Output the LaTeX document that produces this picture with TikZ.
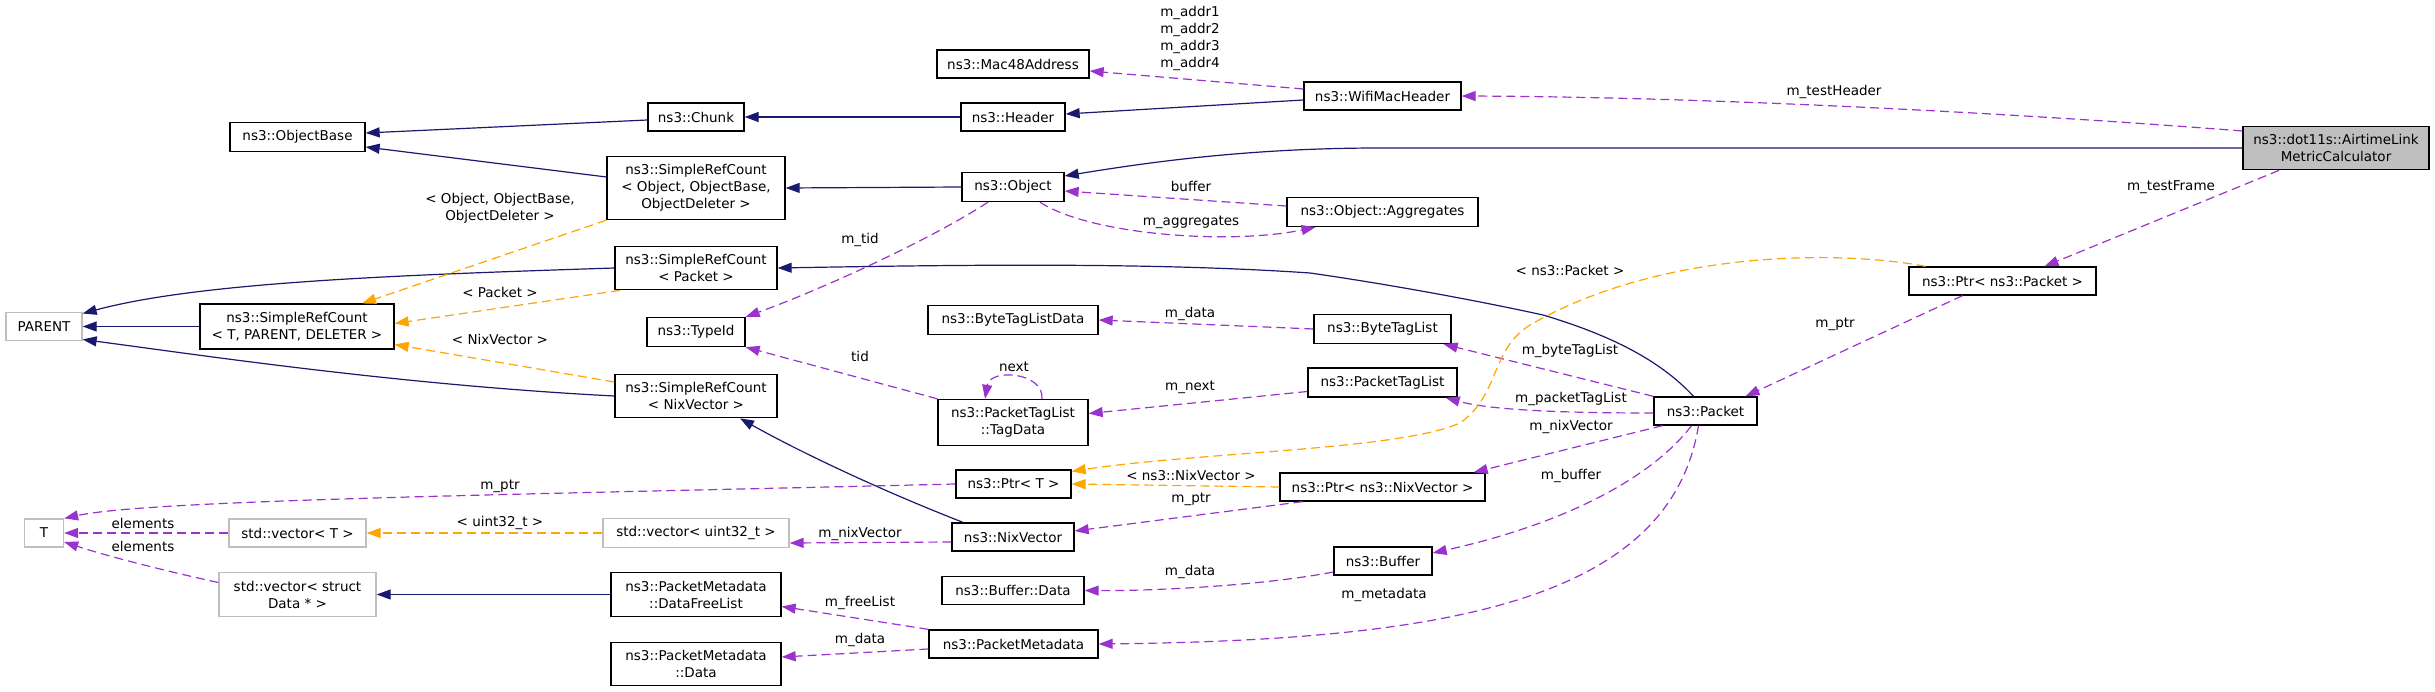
\documentclass[tikz,border=0pt]{standalone}
\usepackage{fontspec}
\setmainfont{DejaVu Sans}
\usetikzlibrary{arrows.meta}

\definecolor{inhblue}{HTML}{191970}
\definecolor{usepurple}{HTML}{9A32CD}
\definecolor{tplorange}{HTML}{FFA500}
\definecolor{extgray}{HTML}{BFBFBF}

\begin{document}
\begin{tikzpicture}[x=1pt, y=-1pt,
	font=\fontsize{13.5pt}{17pt}\selectfont,
	cls/.style={draw=black, line width=1.3pt, align=center, inner xsep=4pt, inner ysep=8pt, minimum height=28pt},
	ext/.style={cls, draw=extgray},
	lbl/.style={inner sep=0pt, align=center},
	edge/.style={line width=1.2pt, -{Triangle[length=14pt,width=10pt]}},
	inh/.style={edge, draw=inhblue},
	use/.style={edge, draw=usepurple, dash pattern=on 9pt off 5pt},
	tpl/.style={edge, draw=tplorange, dash pattern=on 9pt off 5pt}]
	\useasboundingbox (0,0) rectangle (2435,692);

	% classes
	\node[cls, minimum width=152pt] (Mac48) at (1013,64) {ns3::Mac48Address};
	\node[cls, minimum width=157pt] (WifiHdr) at (1382.5,96) {ns3::WifiMacHeader};
	\node[cls, minimum width=96pt] (Chunk) at (696,117) {ns3::Chunk};
	\node[cls, minimum width=104pt] (Header) at (1013,117) {ns3::Header};
	\node[cls, minimum width=135pt] (ObjBase) at (297.5,137) {ns3::ObjectBase};
	\node[cls, minimum width=178pt] (SrcObj) at (696,188) {ns3::SimpleRefCount\\< Object, ObjectBase,\\ObjectDeleter >};
	\node[cls, minimum width=102pt] (Obj) at (1013,187) {ns3::Object};
	\node[cls, minimum width=191pt] (Aggr) at (1382.5,212) {ns3::Object::Aggregates};
	\node[cls, minimum width=186pt, fill=extgray] (Airtime) at (2336,148) {ns3::dot11s::AirtimeLink\\MetricCalculator};
	\node[ext, minimum width=76pt] (Parent) at (44,326.5) {PARENT};
	\node[cls, minimum width=194pt] (SrcT) at (297,326.5) {ns3::SimpleRefCount\\< T, PARENT, DELETER >};
	\node[cls, minimum width=162pt] (SrcPkt) at (696,268) {ns3::SimpleRefCount\\< Packet >};
	\node[cls, minimum width=98pt] (TypeId) at (696,332) {ns3::TypeId};
	\node[cls, minimum width=170pt] (BtlData) at (1013,320) {ns3::ByteTagListData};
	\node[cls, minimum width=137pt] (Btl) at (1382.5,329) {ns3::ByteTagList};
	\node[cls, minimum width=187pt] (PtrPkt) at (2002.5,281) {ns3::Ptr< ns3::Packet >};
	\node[cls, minimum width=162pt] (SrcNix) at (696,396) {ns3::SimpleRefCount\\< NixVector >};
	\node[cls, minimum width=150pt] (TagData) at (1013,422.5) {ns3::PacketTagList\\::TagData};
	\node[cls, minimum width=149pt] (Ptl) at (1382.5,382.5) {ns3::PacketTagList};
	\node[cls, minimum width=103pt] (Packet) at (1705.5,411) {ns3::Packet};
	\node[cls, minimum width=115pt] (PtrT) at (1013.5,484) {ns3::Ptr< T >};
	\node[cls, minimum width=205pt] (PtrNix) at (1382.5,487) {ns3::Ptr< ns3::NixVector >};
	\node[ext, minimum width=39pt] (T) at (44,533) {T};
	\node[ext, minimum width=137pt] (VecT) at (297.5,533) {std::vector< T >};
	\node[ext, minimum width=186pt] (VecU32) at (696,533) {std::vector< uint32\_t >};
	\node[cls, minimum width=122pt] (Nix) at (1013,537) {ns3::NixVector};
	\node[cls, minimum width=98pt] (Buffer) at (1383,561) {ns3::Buffer};
	\node[ext, minimum width=157pt] (VecData) at (297.5,594.5) {std::vector< struct\\Data * >};
	\node[cls, minimum width=170pt] (FreeList) at (696,594.5) {ns3::PacketMetadata\\::DataFreeList};
	\node[cls, minimum width=142pt] (BufData) at (1013,590.5) {ns3::Buffer::Data};
	\node[cls, minimum width=170pt] (PmData) at (696,664) {ns3::PacketMetadata\\::Data};
	\node[cls, minimum width=169pt] (Pm) at (1013.5,644) {ns3::PacketMetadata};

	\coordinate (bendObj) at (1380,148);
	\coordinate (bendPktA) at (1543,315);
	\coordinate (bendPktB) at (1310,273);
	\coordinate (bendTplA) at (1530,325);
	\coordinate (bendTplB) at (1460,423);

	% inheritance
	\draw[inh] ([yshift=-3pt]Chunk.west) -- ([yshift=4pt]ObjBase.east);
	\draw[inh] ([yshift=11pt]SrcObj.west) -- ([yshift=-10pt]ObjBase.east);
	\draw[inh] (Header.west) -- (Chunk.east);
	\draw[inh] ([yshift=-4pt]WifiHdr.west) -- ([yshift=3pt]Header.east);
	\draw[inh] (Obj.west) -- (SrcObj.east);
	\draw[inh] (Airtime.west) -- (bendObj) .. controls (1250,148) and (1150,162) .. ([yshift=11pt]Obj.east);
	\draw[inh] (SrcPkt.west) .. controls (400,275) and (200,282) .. ([yshift=13pt]Parent.east);
	\draw[inh] (SrcT.west) -- (Parent.east);
	\draw[inh] (SrcNix.west) .. controls (400,385) and (200,355) .. ([yshift=-13pt]Parent.east);
	\draw[inh] ([xshift=-12pt]Packet.north) .. controls (1660,360) and (1610,335) .. (bendPktA)
		.. controls (1470,299) and (1380,283) .. (bendPktB) .. controls (1150,262) and (950,265) .. (SrcPkt.east);
	\draw[inh] ([xshift=-50pt]Nix.north) .. controls (880,490) and (800,452) .. ([xshift=44pt]SrcNix.south);
	\draw[inh] (FreeList.west) -- (VecData.east);

	% members
	\draw[use] ([yshift=7pt]WifiHdr.west) -- ([yshift=-7pt]Mac48.east);
	\draw[use] ([yshift=17pt]Airtime.west) .. controls (2000,112) and (1700,97) .. (WifiHdr.east);
	\draw[use] ([yshift=6pt]Aggr.west) -- ([yshift=-4pt]Obj.east);
	\draw[use] ([xshift=27pt]Obj.south) .. controls (1090,235) and (1230,245) .. ([xshift=-67pt]Aggr.south);
	\draw[use] ([xshift=-25pt]Obj.south) .. controls (930,240) and (820,290) .. (TypeId.north east);
	\draw[use] (TagData.north west) -- (TypeId.south east);
	\draw[use] ([xshift=29pt]TagData.north) .. controls (1044,372) and (990,368) .. ([xshift=-28pt]TagData.north);
	\draw[use] (Btl.west) -- (BtlData.east);
	\draw[use] ([yshift=-9pt]Ptl.west) -- ([yshift=9pt]TagData.east);
	\draw[use] ([xshift=-80pt]PtrNix.south) -- ([yshift=6pt]Nix.east);
	\draw[use] ([yshift=-11pt]Buffer.west) .. controls (1260,586) and (1150,591) .. (BufData.east);
	\draw[use] (Pm.north west) -- ([yshift=-12pt]FreeList.east);
	\draw[use] ([yshift=-5pt]Pm.west) -- ([yshift=7pt]PmData.east);
	\draw[use] ([yshift=-5pt]Nix.west) -- ([yshift=-10pt]VecU32.east);
	\draw[use] (PtrT.west) .. controls (500,495) and (150,500) .. (T.north east);
	\draw[use] (VecT.west) -- (T.east);
	\draw[use] ([yshift=12pt]VecData.west) .. controls (170,572) and (110,557) .. ([yshift=-9pt]T.east);
	\draw[use] ([xshift=-57pt]Airtime.south) -- ([xshift=42pt]PtrPkt.north);
	\draw[use] ([xshift=-40pt]PtrPkt.south) -- ([xshift=40pt]Packet.north);
	\draw[use] (Packet.north west) -- ([xshift=-8pt]Btl.south east);
	\draw[use] ([yshift=-2pt]Packet.west) .. controls (1560,413) and (1490,410) .. ([xshift=-12pt]Ptl.south east);
	\draw[use] ([xshift=-43pt]Packet.south) -- ([xshift=-12pt]PtrNix.north east);
	\draw[use] ([xshift=-14pt]Packet.south) .. controls (1650,480) and (1560,525) .. ([yshift=8pt]Buffer.east);
	\draw[use] ([xshift=-7pt]Packet.south) .. controls (1670,600) and (1450,640) .. (Pm.east);

	% templates
	\draw[tpl] (SrcObj.south west) -- ([xshift=65pt]SrcT.north);
	\draw[tpl] ([xshift=-76pt]SrcPkt.south) -- ([yshift=3pt]SrcT.east);
	\draw[tpl] ([yshift=14pt]SrcNix.west) -- ([yshift=-18pt]SrcT.east);
	\draw[tpl] (VecU32.west) -- (VecT.east);
	\draw[tpl] (PtrNix.west) -- (PtrT.east);
	\draw[tpl] ([xshift=-77pt]PtrPkt.north) .. controls (1840,250) and (1660,250) .. (bendTplA)
		.. controls (1490,350) and (1500,395) .. (bendTplB) .. controls (1400,450) and (1200,452) .. ([yshift=-2pt]PtrT.north east);

	% labels
	\foreach \nm/\px/\py/\txt in {testHdr/1834/92/m\_testHeader, testFrm/2171/187/m\_testFrame,
		ptrPkt/1835/324/m\_ptr, buffer/1191/186/buffer, aggr/1191/222/m\_aggregates,
		tid/860/240/m\_tid, tagTid/860/356/tid, next/1014/367/next, btlData/1190/314/m\_data,
		ptlNext/1190/387/m\_next, nixTpl/1191/475/< ns3::NixVector >, ptrNix/1191/499/m\_ptr,
		bufData/1190/572/m\_data, meta/1384/595/m\_metadata, freeList/860/603/m\_freeList,
		pmData/860/640/m\_data, nixVec/860/534/m\_nixVector, btl/1570/351/m\_byteTagList,
		ptl/1571/399/m\_packetTagList, pktNix/1571/427/m\_nixVector, pktBuf/1571/476/m\_buffer,
		ptrT/500/486/m\_ptr, elemA/143/523/elements, elemB/143/546/elements,
		u32/500/523/< uint32\_t >, pktTpl/500/292/< Packet >, srcNixTpl/500/339/< NixVector >,
		ptrPktTpl/1570/270/< ns3::Packet >}
	{
	\node[lbl] (l\nm) at (\px,\py) {\txt};
}
	\node[lbl] (lAddr) at (1190,38) {m\_addr1\\m\_addr2\\m\_addr3\\m\_addr4};
	\node[lbl] (lObjTpl) at (500,208.5) {< Object, ObjectBase,\\ObjectDeleter >};

\end{tikzpicture}
\end{document}
